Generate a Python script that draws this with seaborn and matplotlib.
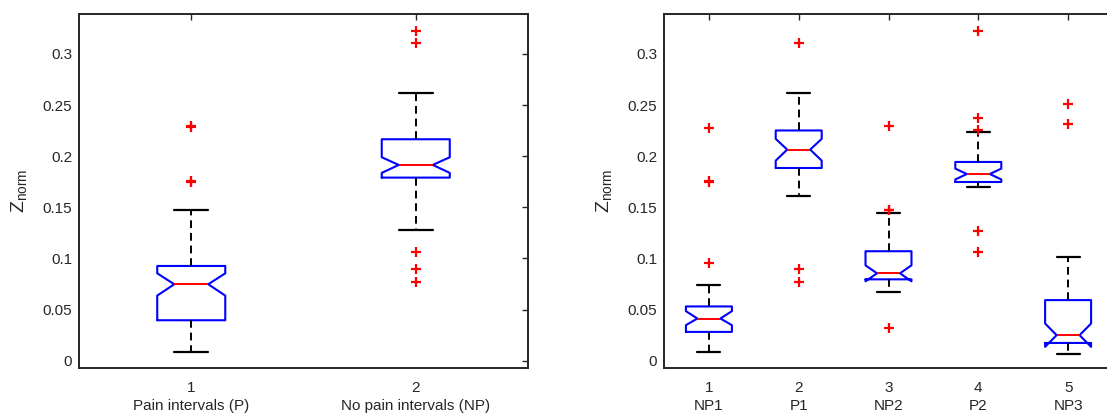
import matplotlib
matplotlib.use("Agg")
import matplotlib.pyplot as plt
from matplotlib.ticker import FormatStrFormatter
import seaborn as sns

# Left panel: pain vs. no-pain intervals (box statistics)
left_names = ["Pain intervals (P)", "No pain intervals (NP)"]
left_med = [0.0747, 0.1914]
left_q1 = [0.0395, 0.1790]
left_q3 = [0.0926, 0.2165]
left_whislo = [0.0082, 0.1275]
left_whishi = [0.1477, 0.2622]
left_cilo = [0.0636, 0.1836]
left_cihi = [0.0854, 0.1989]
left_fliers = [
    [0.2282, 0.2290, 0.1750, 0.1758],
    [0.3227, 0.3110, 0.1063, 0.0900, 0.0766],
]

# Right panel: alternating no-pain / pain segments
right_names = ["NP1", "P1", "NP2", "P2", "NP3"]
right_med = [0.0412, 0.2064, 0.0854, 0.1825, 0.0249]
right_q1 = [0.0281, 0.1884, 0.0795, 0.1747, 0.0173]
right_q3 = [0.0530, 0.2251, 0.1070, 0.1943, 0.0592]
right_whislo = [0.0082, 0.1613, 0.0671, 0.1698, 0.0069]
right_whishi = [0.0739, 0.2617, 0.1446, 0.2238, 0.1011]
right_cilo = [0.0347, 0.1956, 0.0776, 0.1772, 0.0135]
right_cihi = [0.0484, 0.2169, 0.0932, 0.1878, 0.0363]
right_fliers = [
    [0.2277, 0.1749, 0.1757, 0.0952],
    [0.3108, 0.0900, 0.0766],
    [0.2290, 0.1472, 0.1478, 0.0324],
    [0.3226, 0.2375, 0.2251, 0.1269, 0.1060],
    [0.2506, 0.2310],
]

y_ticks = [0, 0.05, 0.1, 0.15, 0.2, 0.25, 0.3]

sns.set_theme(style="white")
plt.rcParams["font.family"] = ["Liberation Sans", "DejaVu Sans"]
plt.rcParams["mathtext.fontset"] = "custom"
plt.rcParams["mathtext.rm"] = "Liberation Sans"

AXIS_COLOR = "#262626"


def make_stats(med, q1, q3, lo, hi, cilo, cihi, fliers):
    stats = []
    for i in range(len(med)):
        stats.append({
            "med": med[i], "q1": q1[i], "q3": q3[i],
            "whislo": lo[i], "whishi": hi[i],
            "cilo": cilo[i], "cihi": cihi[i],
            "fliers": fliers[i],
        })
    return stats


def draw_panel(ax, stats, names, width):
    n = len(stats)
    positions = list(range(1, n + 1))
    ax.bxp(
        stats, positions=positions, widths=width, shownotches=True,
        boxprops=dict(color="#0000ff", linewidth=1.5),
        medianprops=dict(color="#ff0000", linewidth=1.4),
        whiskerprops=dict(color="black", linewidth=1.4, linestyle=(0, (4, 2.5))),
        capprops=dict(color="black", linewidth=1.6),
        flierprops=dict(marker="+", markeredgecolor="#ff0000", markersize=7,
                        markeredgewidth=1.6, linestyle="none"),
    )
    ax.set_xlim(0.5, n + 0.5)
    ax.set_ylim(-0.0072, 0.339)
    ax.set_xticks(positions, labels=[f"{p}\n{name}" for p, name in zip(positions, names)])
    ax.set_yticks(y_ticks)
    ax.yaxis.set_major_formatter(FormatStrFormatter("%g"))
    for lbl in ax.get_xticklabels():
        lbl.set_linespacing(1.4)
    ax.tick_params(axis="both", direction="in", length=4, width=1.0,
                   top=True, right=True, colors=AXIS_COLOR, labelsize=11)
    ax.tick_params(axis="x", pad=9)
    ax.tick_params(axis="y", pad=5)
    for spine in ax.spines.values():
        spine.set_color(AXIS_COLOR)
        spine.set_linewidth(1.4)
    ax.set_ylabel(r"$\mathrm{Z_{norm}}$", fontsize=14, color=AXIS_COLOR)
    ax.yaxis.set_label_coords(-0.112, 0.5)


fig = plt.figure(figsize=(11.07, 4.17), dpi=100)
ax_left = fig.add_axes([79 / 1107, 49 / 417, 449 / 1107, 354 / 417])
ax_right = fig.add_axes([664 / 1107, 49 / 417, 449 / 1107, 354 / 417])

draw_panel(ax_left,
           make_stats(left_med, left_q1, left_q3, left_whislo, left_whishi,
                      left_cilo, left_cihi, left_fliers),
           left_names, 0.303)
draw_panel(ax_right,
           make_stats(right_med, right_q1, right_q3, right_whislo, right_whishi,
                      right_cilo, right_cihi, right_fliers),
           right_names, 0.512)

fig.savefig("out.png", dpi=100)
plt.close(fig)
